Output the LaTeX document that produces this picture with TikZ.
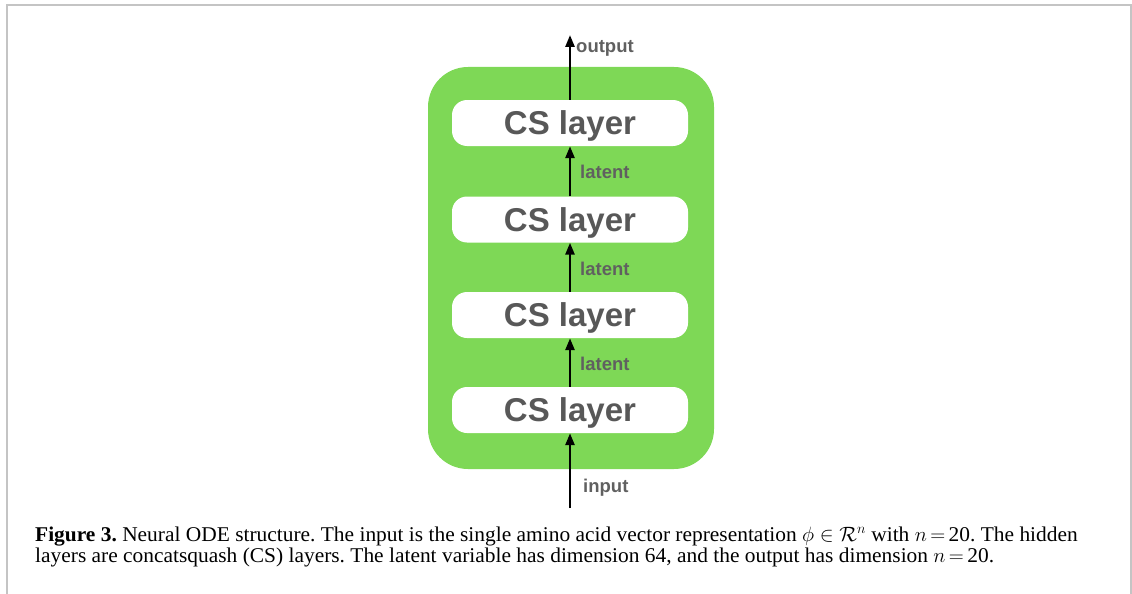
\documentclass[tikz,border=0pt]{standalone}
\usepackage{fontspec}
\setmainfont{Liberation Serif}[FakeStretch=1.02]
\newfontfamily\labelfont{Liberation Sans}
\usetikzlibrary{arrows.meta}
\definecolor{odegreen}{RGB}{126,216,86}
\definecolor{layertext}{RGB}{88,88,88}
\definecolor{labeltext}{RGB}{96,96,96}
\definecolor{framegray}{RGB}{196,196,196}
\tikzset{
  container/.style={fill=odegreen, draw=none, rounded corners=40pt,
    minimum width=286pt, minimum height=402pt, inner sep=0pt},
  cslayer/.style={fill=white, draw=none, rounded corners=15pt,
    minimum width=236pt, minimum height=46pt, inner sep=0pt,
    text height=23pt, text depth=0pt,
    text=layertext, font=\labelfont\bfseries\fontsize{33}{36}\selectfont},
  flowlabel/.style={anchor=west, inner sep=0pt, text=labeltext,
    font=\labelfont\bfseries\fontsize{18.5}{20}\selectfont},
  flow/.style={line width=2.6pt, black, -{Triangle[width=9pt,length=12pt]}},
  caption/.style={anchor=base west, inner sep=0pt,
    font=\fontsize{21}{22}\selectfont\frenchspacing}
}
\newcommand{\nval}{$n\,{=}\,$20}
\begin{document}
\begin{tikzpicture}[x=1pt,y=-1pt]
\useasboundingbox (0,0) rectangle (1132,594);
% page frame
\draw[framegray, line width=2pt] (7,594) -- (7,5.5) -- (1131,5.5) -- (1131,594);

% network body
\node[container] (ode) at (571,268) {};
\node[cslayer] (l1) at (570,123) {CS layer};
\node[cslayer] (l2) at (570,219.5) {CS layer};
\node[cslayer] (l3) at (570,315) {CS layer};
\node[cslayer] (l4) at (570,410) {CS layer};

\coordinate (outtip) at (570,35);
\coordinate (intail) at (570,508);

\draw[flow] (intail) -- (l4.south);
\draw[flow] (l4.north) -- (l3.south);
\draw[flow] (l3.north) -- (l2.south);
\draw[flow] (l2.north) -- (l1.south);
\draw[flow] (l1.north) -- (outtip);

\node[flowlabel] (lbout) at (576,48) {output};
\node[flowlabel] (lb1) at (580,172) {latent};
\node[flowlabel] (lb2) at (580,269) {latent};
\node[flowlabel] (lb3) at (580,364) {latent};
\node[flowlabel] (lbin) at (583,488) {input};

% caption
\node[caption] (cap1) at (35,541) {\textbf{Figure 3.} Neural ODE structure. The input is the single amino acid vector representation $\phi\in\mathcal{R}^n$ with \nval. The hidden};
\node[caption] (cap2) at (35,562) {layers are concatsquash (CS) layers. The latent variable has dimension 64, and the output has dimension \nval.};
\end{tikzpicture}
\end{document}
